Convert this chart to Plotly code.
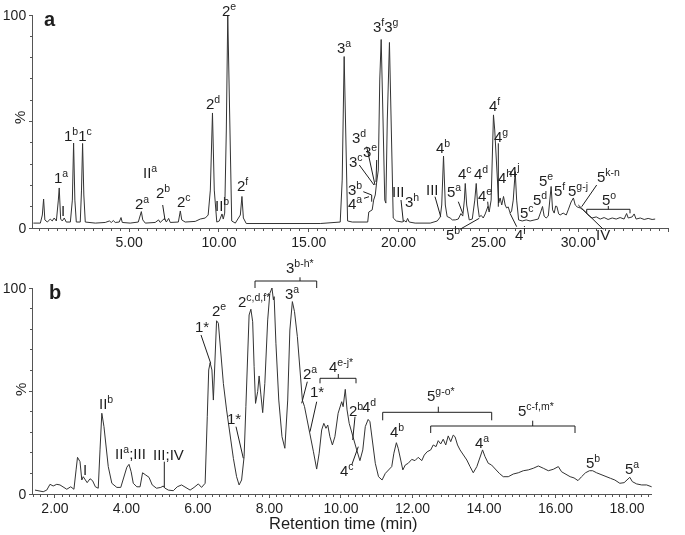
import plotly.graph_objects as go

W, H = 685, 535

# ---------------- data: panel a (35 min run) ----------------
time_a = [-0.33, 0.06, 0.17, 0.24, 0.31, 0.45, 0.61, 0.72, 0.83, 0.95, 1.06, 1.11, 1.19, 1.28, 1.39, 1.50,
          1.73, 1.84, 1.91, 1.98, 2.06, 2.28, 2.35, 2.41, 2.48, 2.56, 3.12, 3.67, 3.90, 4.01, 4.12, 4.23,
          4.45, 4.55, 4.62, 5.06, 5.51, 5.62, 5.68, 5.76, 5.90, 6.45, 6.64, 6.73, 6.97, 7.07, 7.20, 7.29,
          7.74, 7.85, 7.93, 8.12, 8.68, 8.96, 9.24, 9.40, 9.52, 9.64, 9.74, 9.88, 10.02, 10.17, 10.24, 10.32,
          10.41, 10.49, 10.60, 10.71, 10.91, 11.19, 11.28, 11.36, 11.52, 12.85, 14.52, 15.64, 16.75, 16.86,
          16.97, 17.05, 17.16, 17.42, 17.86, 18.28, 18.34, 18.53, 18.61, 18.70, 18.78, 18.87, 18.95, 19.03,
          19.12, 19.23, 19.29, 19.37, 19.49, 19.59, 19.70, 19.87, 20.20, 20.31, 20.42, 20.50, 20.59, 20.92,
          21.76, 22.15, 22.32, 22.40, 22.50, 22.60, 22.70, 22.87, 22.99, 23.15, 23.32, 23.47, 23.57, 23.66,
          23.71, 23.79, 23.93, 24.10, 24.24, 24.32, 24.40, 24.49, 24.60, 24.71, 24.82, 24.97, 25.04, 25.15,
          25.23, 25.28, 25.35, 25.44, 25.49, 25.57, 25.65, 25.74, 25.84, 25.93, 26.01, 26.10, 26.21, 26.29,
          26.38, 26.49, 26.57, 26.68, 26.88, 27.10, 27.32, 27.60, 27.77, 27.91, 28.01, 28.10, 28.21, 28.33,
          28.41, 28.49, 28.57, 28.66, 28.74, 28.81, 28.91, 28.99, 29.16, 29.33, 29.44, 29.60, 29.73, 29.83,
          29.94, 30.11, 30.27, 30.44, 30.61, 30.77, 31.00, 31.22, 31.44, 31.66, 31.89, 32.11, 32.33, 32.55,
          32.69, 32.78, 33.00, 33.11, 33.22, 33.45, 33.67, 33.89, 34.11, 34.28]
intensity_a = [2.3, 2.3, 6.1, 13.6, 3.8, 2.8, 4.2, 3.3, 4.7, 3.3, 13.1, 18.8, 4.2, 3.3, 4.7, 2.8,
               2.8, 13.1, 39.9, 13.1, 2.8, 2.8, 17.8, 39.7, 15.5, 2.8, 2.3, 2.6, 3.3, 2.6, 3.5, 2.6,
               2.8, 4.9, 2.6, 2.3, 2.8, 6.1, 7.7, 3.8, 2.3, 2.6, 3.8, 2.6, 4.5, 2.8, 4.5, 2.6,
               2.8, 8.0, 3.8, 2.8, 3.1, 4.2, 4.7, 6.1, 17.8, 54.0, 17.8, 2.8, 3.3, 6.6, 4.2, 7.0,
               46.0, 100.0, 55.4, 3.3, 2.3, 6.1, 14.8, 4.7, 2.1, 2.1, 2.3, 2.1, 2.8, 22.5,
               80.5, 46.0, 3.3, 2.8, 2.8, 2.8, 7.5, 8.5, 13.1, 15.5, 21.6, 27.2, 69.5, 88.5,
               55.4, 13.1, 11.7, 50.7, 87.1, 41.3, 4.7, 3.3, 2.8, 3.5, 2.8, 4.5, 2.8, 2.3,
               2.3, 3.3, 5.2, 10.8, 33.8, 10.8, 5.4, 4.7, 3.8, 3.8, 4.2, 6.8, 5.6, 13.1,
               20.9, 10.8, 3.8, 4.2, 13.1, 20.9, 10.8, 5.2, 5.9, 4.7, 6.6, 10.1, 7.5, 13.1,
               36.6, 53.1, 46.0, 30.5, 22.5, 11.7, 14.1, 10.8, 14.8, 10.8, 9.4, 9.9, 7.0, 8.0,
               13.1, 26.5, 13.1, 3.8, 3.3, 3.8, 3.3, 3.8, 4.2, 7.5, 10.1, 5.6, 4.7, 5.6,
               13.1, 19.5, 8.5, 7.0, 10.3, 10.1, 6.6, 6.1, 7.0, 6.1, 8.5, 12.2, 14.1, 10.8,
               9.9, 9.4, 8.5, 7.0, 5.6, 4.7, 5.2, 4.2, 4.9, 4.0, 4.7, 4.2, 4.9, 4.2,
               6.8, 4.7, 5.2, 6.6, 4.2, 4.7, 4.0, 4.5, 4.0, 4.2]

# ---------------- data: panel b (zoomed run) ----------------
time_b = [1.44, 1.56, 1.67, 1.77, 1.86, 1.95, 2.05, 2.14, 2.23, 2.33, 2.44, 2.53, 2.59, 2.63, 2.70, 2.75,
          2.79, 2.85, 2.90, 2.98, 3.05, 3.13, 3.21, 3.26, 3.31, 3.37, 3.43, 3.49, 3.59, 3.73, 3.84, 3.93,
          4.01, 4.07, 4.13, 4.19, 4.29, 4.38, 4.45, 4.54, 4.63, 4.72, 4.84, 4.96, 5.03, 5.07, 5.17, 5.31,
          5.42, 5.54, 5.64, 5.78, 5.89, 6.01, 6.10, 6.20, 6.26, 6.30, 6.34, 6.39, 6.43, 6.48, 6.52, 6.57,
          6.64, 6.71, 6.80, 6.90, 6.99, 7.08, 7.15, 7.22, 7.29, 7.34, 7.40, 7.43, 7.48, 7.53, 7.57, 7.61,
          7.67, 7.71, 7.76, 7.81, 7.87, 7.95, 8.01, 8.07, 8.11, 8.13, 8.18, 8.26, 8.35, 8.43, 8.51, 8.57,
          8.64, 8.70, 8.78, 8.85, 8.92, 8.98, 9.06, 9.13, 9.23, 9.32, 9.39, 9.46, 9.52, 9.58, 9.63, 9.69,
          9.76, 9.83, 9.92, 10.02, 10.06, 10.12, 10.17, 10.23, 10.30, 10.36, 10.44, 10.53, 10.61, 10.68,
          10.76, 10.81, 10.89, 10.96, 11.05, 11.15, 11.24, 11.32, 11.42, 11.48, 11.55, 11.60, 11.66, 11.73,
          11.80, 11.88, 11.98, 12.07, 12.16, 12.26, 12.33, 12.41, 12.51, 12.58, 12.66, 12.72, 12.79, 12.86,
          12.93, 13.00, 13.07, 13.14, 13.19, 13.26, 13.33, 13.42, 13.52, 13.61, 13.70, 13.80, 13.89, 13.96,
          14.03, 14.12, 14.21, 14.31, 14.43, 14.54, 14.68, 14.82, 14.96, 15.10, 15.24, 15.38, 15.52, 15.66,
          15.80, 15.94, 16.08, 16.17, 16.29, 16.41, 16.52, 16.63, 16.73, 16.84, 16.95, 17.04, 17.15, 17.29,
          17.43, 17.54, 17.66, 17.80, 17.92, 18.01, 18.08, 18.15, 18.27, 18.41, 18.55, 18.69]
intensity_b = [1.9, 1.6, 1.1, 1.9, 4.7, 3.9, 4.7, 4.4, 3.2, 2.3, 3.5, 2.3, 11.7, 17.8, 15.7, 6.8,
               8.4, 6.8, 5.5, 7.4, 6.5, 3.5, 2.8, 21.4, 39.2, 32.7, 23.0, 13.3, 5.2, 3.2, 3.2, 8.1,
               13.0, 14.4, 10.8, 5.2, 3.5, 3.5, 10.3, 9.2, 8.1, 4.4, 2.8, 3.2, 3.9, 2.9, 1.9, 1.6,
               3.5, 4.4, 3.5, 1.9, 3.2, 4.9, 3.2, 5.2, 37.5, 60.2, 63.7, 60.2, 45.6, 69.9, 84.1, 82.9,
               66.7, 53.7, 40.8, 27.8, 17.3, 8.4, 4.4, 6.8, 18.1, 42.4, 76.4, 86.9, 89.7, 83.6, 61.8, 44.0,
               49.7, 57.3, 48.1, 39.5, 53.7, 84.5, 97.4, 100.0, 94.2, 95.8, 73.2, 45.6, 27.8, 22.2, 45.6, 79.6,
               93.4, 88.5, 76.4, 60.2, 45.6, 42.4, 35.9, 30.2, 20.5, 12.1, 19.8, 31.1, 34.3, 31.9, 33.5, 27.8,
               23.8, 27.8, 39.2, 44.8, 42.4, 50.8, 40.8, 34.3, 29.5, 25.4, 21.4, 16.2, 21.4, 32.7,
               36.2, 35.1, 25.4, 14.9, 8.4, 6.8, 10.0, 11.7, 13.3, 19.8, 24.9, 22.2, 16.5, 11.7,
               14.1, 14.9, 16.8, 16.2, 17.8, 16.2, 18.9, 20.5, 21.4, 23.8, 23.0, 25.9, 24.3, 26.6,
               23.8, 28.2, 25.4, 28.6, 27.8, 23.8, 21.4, 18.9, 16.5, 13.3, 10.3, 13.3, 18.1, 21.4,
               18.1, 14.9, 14.1, 12.0, 10.0, 8.4, 8.4, 9.7, 10.3, 11.3, 11.7, 12.5, 13.6, 12.5,
               11.3, 12.0, 13.3, 10.8, 9.7, 8.4, 7.8, 6.5, 8.4, 10.3, 11.3, 11.3, 10.3, 9.2,
               8.4, 7.6, 6.8, 5.2, 5.5, 6.8, 8.1, 6.0, 4.9, 4.4, 4.4, 3.5]

xtick_a = [5, 10, 15, 20, 25, 30, 35]
xtick_b = [2, 4, 6, 8, 10, 12, 14, 16, 18]
ytick_vals = [0, 50, 100]
ytick_text = ["0", "", "100"]

# ---------------- layout helpers ----------------
FONT = "Liberation Sans, Arial, sans-serif"
INK = "#1e1e1e"
AX = "#555555"
LABEL_SIZE = 15


def px(x):
    return x / W


def py(y):
    return 1 - y / H


fig = go.Figure()
fig.add_trace(go.Scatter(x=time_a, y=intensity_a, mode="lines", xaxis="x", yaxis="y",
                         line=dict(color="#333333", width=1), showlegend=False, hoverinfo="skip"))
fig.add_trace(go.Scatter(x=time_b, y=intensity_b, mode="lines", xaxis="x2", yaxis="y2",
                         line=dict(color="#333333", width=1), showlegend=False, hoverinfo="skip"))

axis_common = dict(showline=True, linecolor=AX, linewidth=1, ticks="outside", tickcolor=AX,
                   ticklen=3, showgrid=False, zeroline=False, automargin=False,
                   tickfont=dict(family=FONT, size=14, color=INK))

fig.update_layout(
    width=W, height=H, margin=dict(l=0, r=0, t=0, b=0),
    paper_bgcolor="white", plot_bgcolor="white",
    xaxis=dict(domain=[px(33), px(669)], range=[-0.35, 35.05], anchor="y",
               tickvals=xtick_a, tickformat=".2f", ticklabelstandoff=-2,
               minor=dict(dtick=0.5, tick0=0, ticklen=2, ticks="outside", tickcolor=AX),
               **axis_common),
    yaxis=dict(domain=[py(228), py(15)], range=[0, 100], anchor="x",
               tickvals=ytick_vals, ticktext=ytick_text,
               minor=dict(dtick=10, ticklen=2, ticks="outside", tickcolor=AX),
               **axis_common),
    xaxis2=dict(domain=[px(33), px(652)], range=[1.385, 18.70], anchor="y2",
                tickvals=xtick_b, tickformat=".2f", ticklabelstandoff=-2,
                minor=dict(dtick=0.2, tick0=0, ticklen=2, ticks="outside", tickcolor=AX),
                **axis_common),
    yaxis2=dict(domain=[py(494), py(288)], range=[0, 100], anchor="x2",
                tickvals=ytick_vals, ticktext=ytick_text,
                minor=dict(dtick=10, ticklen=2, ticks="outside", tickcolor=AX),
                **axis_common),
)

annotations = []


def lab(text, x, y, size=LABEL_SIZE, **kw):
    d = dict(text=text, x=px(x), y=py(y), xref="paper", yref="paper", showarrow=False,
             xanchor="center", yanchor="middle",
             font=dict(family=FONT, size=size, color=INK))
    d.update(kw)
    annotations.append(d)


# panel letters and axis captions
lab("<b>a</b>", 50, 19, size=20)
lab("<b>b</b>", 55, 292, size=20)
lab("%", 20, 118, size=15, textangle=-90)
lab("%", 20, 390, size=15, textangle=-90)
lab("Retention time (min)", 343, 523, size=16.5)

# panel a peak labels (pixel positions of text centres)
labels_a = [
    ("1<sup>a</sup>", 61, 177), ("I", 63, 210), ("1<sup>b</sup>1<sup>c</sup>", 78, 134),
    ("II<sup>a</sup>", 150, 171), ("2<sup>a</sup>", 142, 202), ("2<sup>b</sup>", 163, 192),
    ("2<sup>c</sup>", 184, 200), ("2<sup>d</sup>", 212.5, 102), ("II<sup>b</sup>", 222, 205),
    ("2<sup>e</sup>", 229, 9.5), ("2<sup>f</sup>", 243, 185), ("3<sup>a</sup>", 344, 46),
    ("3<sup>f</sup>3<sup>g</sup>", 386, 25), ("3<sup>d</sup>", 359, 137), ("3<sup>e</sup>", 370, 150),
    ("3<sup>c</sup>", 356, 160), ("3<sup>b</sup>", 355, 188), ("4<sup>a</sup>", 355, 202.5),
    ("III", 398, 191), ("3<sup>h</sup>", 412, 200), ("III", 432, 189), ("4<sup>b</sup>", 443, 147),
    ("5<sup>a</sup>", 454, 190), ("5<sup>b</sup>", 453, 233), ("4<sup>c</sup>", 465, 172),
    ("4<sup>d</sup>", 481, 172), ("4<sup>e</sup>", 485, 195), ("4<sup>f</sup>", 494, 104),
    ("4<sup>g</sup>", 501, 136), ("4<sup>h</sup>", 505, 177), ("4<sup>i</sup>", 520, 233),
    ("4<sup>j</sup>", 514, 170), ("5<sup>c</sup>", 527, 211), ("5<sup>d</sup>", 540, 198),
    ("5<sup>e</sup>", 546, 179), ("5<sup>f</sup>", 559, 189), ("5<sup>g-j</sup>", 578, 189),
    ("5<sup>k-n</sup>", 608, 176), ("IV", 603, 234), ("5<sup>o</sup>", 609, 198),
]
labels_b = [
    ("I", 85, 469), ("II<sup>b</sup>", 105.5, 402), ("II<sup>a</sup>;III", 130, 452),
    ("III;IV", 168.5, 454), ("1*", 202, 326), ("2<sup>e</sup>", 219, 309), ("1*", 234, 418),
    ("2<sup>c,d,f*</sup>", 254, 300), ("3<sup>b-h*</sup>", 300, 266), ("3<sup>a</sup>", 292, 292),
    ("2<sup>a</sup>", 310, 372), ("1*", 317, 391), ("4<sup>e-j*</sup>", 341, 365),
    ("2<sup>b</sup>", 356, 409), ("4<sup>d</sup>", 369, 405), ("4<sup>c</sup>", 347, 469),
    ("4<sup>b</sup>", 397, 430), ("5<sup>g-o*</sup>", 441, 394), ("5<sup>c-f,m*</sup>", 536, 409),
    ("4<sup>a</sup>", 482, 441), ("5<sup>b</sup>", 593, 461), ("5<sup>a</sup>", 632, 467),
]
for t, x, y in labels_a + labels_b:
    lab(t, x, y)

# leader lines (pixel coordinates)
leaders = [
    (162.7, 205, 165, 220), (359.3, 165, 374, 185), (366.7, 146.7, 375, 185),
    (376.7, 160, 376, 182), (363.3, 191.7, 371.7, 195), (371.7, 195, 371.7, 201.7),
    (364, 198.3, 369, 196.7), (401, 200, 403.3, 221.7), (435, 196.7, 440.7, 216.7),
    (458.3, 201.7, 462.7, 213.3), (460, 229.3, 479.3, 218.3), (487.7, 201.7, 488.3, 208),
    (498.3, 143.3, 498.3, 206.7), (516.7, 226.7, 510, 213.3), (596.7, 185, 581.7, 206.7),
    (603.3, 229.3, 578.3, 205),
    (164.3, 461.7, 164.3, 487.3), (201, 335, 210.7, 363.3), (236, 426.7, 243.3, 458.3),
    (307.3, 381.7, 301.7, 403.3), (316.7, 401.7, 310, 431.7), (355, 416.7, 352.7, 440),
    (351.7, 465, 358.3, 446.7),
]
# brackets: (x0, x1, y, end_drop, xmid, mid_rise)
brackets = [
    (586.7, 630, 209.3, 4, 608.3, 3.3),
    (255, 316.7, 281, 7, 300, 3.7),
    (320, 356, 378.3, 5, 338.3, 4.3),
    (382.7, 491.7, 412.3, 8, 438.3, 5.6),
    (430.7, 575, 426, 7, 532.7, 5.3),
]
shapes = []


def seg(x0, y0, x1, y1):
    shapes.append(dict(type="line", xref="paper", yref="paper", x0=px(x0), y0=py(y0),
                       x1=px(x1), y1=py(y1), line=dict(color=INK, width=1)))


for x0, y0, x1, y1 in leaders:
    seg(x0, y0, x1, y1)
for x0, x1, y, drop, xm, rise in brackets:
    seg(x0, y, x1, y)
    seg(x0, y, x0, y + drop)
    seg(x1, y, x1, y + drop)
    seg(xm, y, xm, y - rise)

fig.update_layout(annotations=annotations, shapes=shapes)
fig.write_html(
    "out.html",
    config={"displayModeBar": False},
    post_script=(
        "document.body.style.margin='0';document.body.style.overflow='hidden';"
        "document.querySelectorAll('.main-svg').forEach(function(s){s.style.willChange='transform';});"
    ),
)
